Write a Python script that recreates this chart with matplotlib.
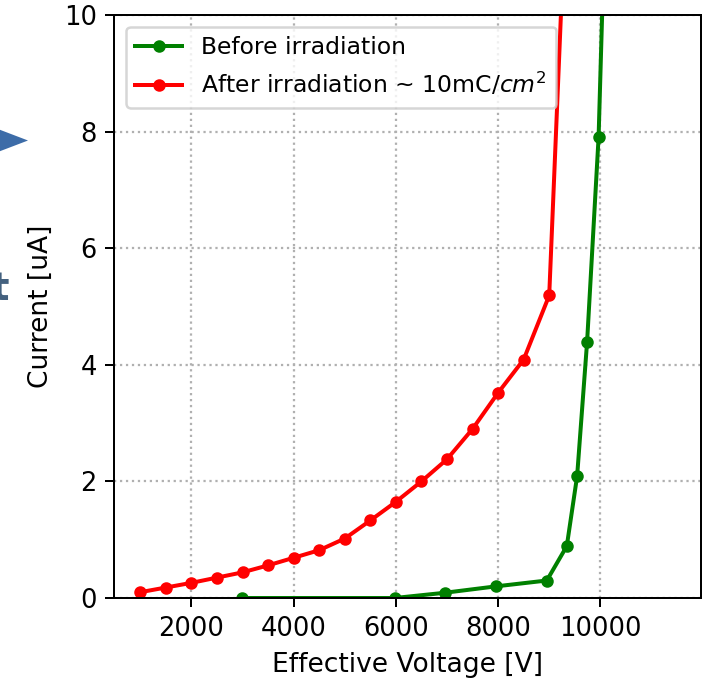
import matplotlib
matplotlib.use("Agg")
import matplotlib.pyplot as plt
from matplotlib.patches import Polygon

# Leakage current vs effective voltage
before_v = [2980, 5975, 6960, 7962, 8953, 9344, 9546, 9741, 9966, 10200]
before_i = [0.0, 0.0, 0.09, 0.20, 0.30, 0.89, 2.09, 4.39, 7.90, 15.0]

after_v = [1000, 1500, 2000, 2500, 3000, 3500, 4000, 4500, 5000, 5500,
           6000, 6500, 7000, 7500, 8000, 8500, 9000, 9500]
after_i = [0.10, 0.18, 0.26, 0.35, 0.44, 0.56, 0.69, 0.82, 1.02, 1.33,
           1.65, 2.00, 2.38, 2.90, 3.52, 4.09, 5.19, 15.7]

x_ticks = [2000, 4000, 6000, 8000, 10000]
y_ticks = [0, 2, 4, 6, 8, 10]

W, H, DPI = 706, 679, 180
fig = plt.figure(figsize=(W / DPI, H / DPI), dpi=DPI)
ax = fig.add_axes([114.3 / W, 1 - 598 / H, (701 - 114.3) / W, (598 - 15) / H])

ax.plot(before_v, before_i, marker='o', markersize=4.0, linewidth=1.6,
        color='green', label='Before irradiation')
ax.plot(after_v, after_i, marker='o', markersize=4.0, linewidth=1.6,
        color='red', label='After irradiation ~ 10mC/$cm^2$')

ax.set_xlim(490, 11970)
ax.set_ylim(0, 10)
ax.set_xticks(x_ticks)
ax.set_yticks(y_ticks)
ax.tick_params(labelsize=10.3)
ax.grid(True, linestyle=':', color='#b0b0b0', linewidth=0.9)
ax.set_axisbelow(True)
ax.set_xlabel('Effective Voltage [V]', fontsize=10.6)
ax.set_ylabel('Current [uA]', fontsize=10.6)
ax.legend(loc='upper left', fontsize=9.4)

# slide decorations at the left edge
fig.patches.append(Polygon([(-10 / W, 1 - 126 / H), (28 / W, 1 - 140.5 / H),
                            (-10 / W, 1 - 155 / H)], closed=True,
                           transform=fig.transFigure, facecolor='#3d6ca8',
                           edgecolor='none'))
fig.text(9 / W, 1 - 300 / H, 't', ha='right', va='baseline',
         fontsize=15.5, fontweight='bold', color='#44617f')

fig.savefig('out.png', dpi=DPI)
